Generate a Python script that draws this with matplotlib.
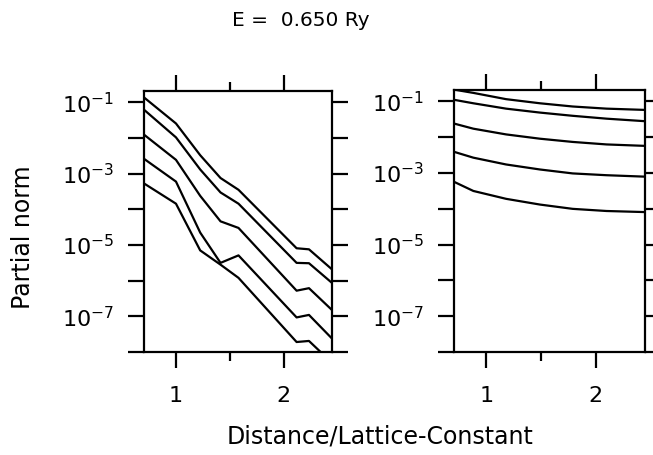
import numpy as np
import matplotlib
matplotlib.use("Agg")
import matplotlib.pyplot as plt
from matplotlib.ticker import NullLocator, FixedLocator

plt.rcParams['font.family'] = ['DejaVu Sans']
plt.rcParams['mathtext.default'] = 'regular'

# ---- data (log10 of partial norm) ----
left_x = [0.707, 1.0, 1.225, 1.414, 1.581, 2.121, 2.236, 2.449]
left_log_1 = [-0.87, -1.59, -2.48, -3.12, -3.45, -5.09, -5.12, -5.68]
left_log_2 = [-1.215, -1.98, -2.88, -3.525, -3.84, -5.50, -5.51, -6.06]
left_log_3 = [-1.913, -2.61, -3.62, -4.335, -4.52, -6.28, -6.21, -6.82]
left_log_4 = [-2.59, -3.22, -4.65, -5.50, -5.29, -7.03, -6.96, -7.62]
left_log_5 = [-3.28, -3.84, -5.15, -5.55, -5.92, -7.72, -7.69, -8.30]

right_x = [0.707, 0.88, 1.18, 1.49, 1.79, 2.10, 2.449]
right_log_1 = [-0.67, -0.76, -0.935, -1.05, -1.14, -1.20, -1.235]
right_log_2 = [-0.955, -1.05, -1.20, -1.31, -1.40, -1.48, -1.55]
right_log_3 = [-1.62, -1.76, -1.92, -2.04, -2.13, -2.20, -2.24]
right_log_4 = [-2.41, -2.57, -2.76, -2.90, -3.01, -3.06, -3.10]
right_log_5 = [-3.25, -3.50, -3.72, -3.88, -4.00, -4.06, -4.09]

x_major = [1, 2]
x_minor = [1.5]
x_labels = ['1', '2']
y_decades = [-1, -2, -3, -4, -5, -6, -7, -8]
y_labels = ['$10^{-1}$', '', '$10^{-3}$', '', '$10^{-5}$', '', '$10^{-7}$', '']

title = 'E =  0.650 Ry'
xlabel = 'Distance/Lattice-Constant'
ylabel = 'Partial norm'

W, H = 653, 455
fig = plt.figure(figsize=(W / 100, H / 100), dpi=100)

def fx(px):
    return px / W

def fy(py):
    return 1 - py / H

ax1 = fig.add_axes([fx(143.7), fy(352), fx(332 - 143.7), (352 - 90.5) / H])
ax2 = fig.add_axes([fx(453.7), fy(352), fx(644.7 - 453.7), (352 - 89.5) / H])

lw = 1.6
for ax, xs, curves in [
    (ax1, left_x, [left_log_1, left_log_2, left_log_3, left_log_4, left_log_5]),
    (ax2, right_x, [right_log_1, right_log_2, right_log_3, right_log_4, right_log_5]),
]:
    for c in curves:
        ax.plot(xs, 10.0 ** np.array(c), color='black', lw=lw)
    ax.set_yscale('log')
    ax.set_xlim(0.7, 2.45)
    ax.set_ylim(1e-8, 10 ** -0.665)
    ax.xaxis.set_major_locator(FixedLocator(x_major))
    ax.xaxis.set_minor_locator(FixedLocator(x_minor))
    ax.set_xticklabels(x_labels)
    ax.yaxis.set_major_locator(FixedLocator([10.0 ** d for d in y_decades]))
    ax.yaxis.set_minor_locator(NullLocator())
    ax.set_yticklabels(y_labels)
    ax.tick_params(axis='both', which='major', direction='out', length=11.5,
                   width=lw, labelsize=16, top=True, bottom=True, left=True,
                   right=True, labeltop=False, labelright=False)
    ax.tick_params(axis='x', which='minor', direction='out', length=6.5,
                   width=lw, top=True, bottom=True)
    ax.tick_params(axis='x', which='major', pad=13)
    ax.tick_params(axis='y', which='major', pad=10)
    for s in ax.spines.values():
        s.set_linewidth(lw)

fig.text(fx(301), fy(20), title, ha='center', va='center', fontsize=14.5)
fig.text(fx(380), fy(437), xlabel, ha='center', va='center', fontsize=17)
fig.text(fx(23), fy(237), ylabel, ha='center', va='center', rotation=90, fontsize=17)

fig.savefig('out.png', dpi=100)
